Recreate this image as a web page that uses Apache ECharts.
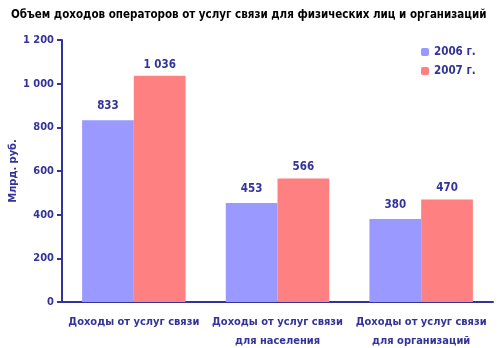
<!DOCTYPE html>
<html><head><meta charset="utf-8">
<script src="https://cdn.jsdelivr.net/npm/echarts@6/dist/echarts.min.js"></script>
<style>html,body{margin:0;padding:0;background:#fff}#c{width:500px;height:348px}</style>
</head><body><div id="c"></div>
<script>
const categories = ['Доходы от услуг связи', 'Доходы от услуг связи\nдля населения', 'Доходы от услуг связи\nдля организаций'];
const series2006 = [833, 453, 380];
const series2007 = [1036, 566, 470];
const seriesNames = ['2006 г.', '2007 г.'];
const yTicks = [0, 200, 400, 600, 800, 1000, 1200];
const yAxisName = 'Млрд. руб.';

const navy = '#333399';
const fmt = v => String(v).replace(/\B(?=(\d{3})+(?!\d))/g, ' ');
const font = '"DejaVu Sans Condensed", "DejaVu Sans", sans-serif';
const chart = echarts.init(document.getElementById('c'));
chart.setOption({
  animation: false,
  textStyle: { fontFamily: font },
  title: { text: 'Объем доходов операторов от услуг связи для физических лиц и организаций', left: 6, top: 4,
    textStyle: { fontSize: 11.5, fontWeight: 'bold', color: '#000', fontFamily: font } },
  legend: { orient: 'vertical', left: 416, top: 41, itemWidth: 8, itemHeight: 8, itemGap: 7,
    textStyle: { color: navy, fontWeight: 'bold', fontSize: 11.5, fontFamily: font }, data: seriesNames },
  graphic: [{ type: 'text', x: 13, y: 171, rotation: Math.PI / 2,
    style: { text: yAxisName, fill: navy, font: 'bold 11px ' + font, align: 'center', verticalAlign: 'middle' } }],
  grid: { left: 62, right: 7, top: 40, bottom: 46, outerBoundsMode: 'none', containLabel: false },
  xAxis: { type: 'category', data: categories,
    axisLine: { lineStyle: { color: navy, width: 2 } },
    axisTick: { lineStyle: { color: navy, width: 2 }, length: 5 },
    axisLabel: { interval: 0, color: navy, fontWeight: 'bold', fontSize: 11, lineHeight: 19, margin: 11, fontFamily: font } },
  yAxis: { type: 'value', min: yTicks[0], max: yTicks[yTicks.length - 1], interval: yTicks[1] - yTicks[0],
    axisLine: { show: true, lineStyle: { color: navy, width: 2 } },
    axisTick: { show: true, lineStyle: { color: navy, width: 2 }, length: 5 },
    splitLine: { show: false },
    axisLabel: { color: navy, fontWeight: 'bold', fontSize: 11, margin: 8, fontFamily: font, formatter: v => fmt(v) } },
  series: [
    { name: seriesNames[0], type: 'bar', data: series2006, barGap: '0%', barCategoryGap: '28%',
      itemStyle: { color: '#9999FF' },
      label: { show: true, position: 'top', distance: 8, color: navy, fontWeight: 'bold', fontSize: 11.5, fontFamily: font, formatter: p => fmt(p.value) } },
    { name: seriesNames[1], type: 'bar', data: series2007, barGap: '0%', barCategoryGap: '28%',
      itemStyle: { color: '#FF8080' },
      label: { show: true, position: 'top', distance: 5, color: navy, fontWeight: 'bold', fontSize: 11.5, fontFamily: font, formatter: p => fmt(p.value) } }
  ]
});
</script></body></html>
